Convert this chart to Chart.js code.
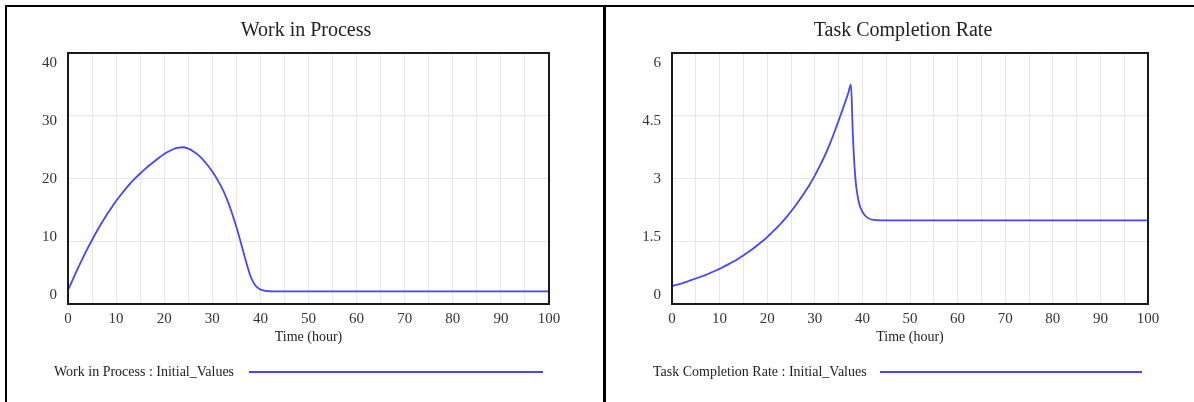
<!DOCTYPE html>
<html>
<head>
<meta charset="utf-8">
<script src="https://cdn.jsdelivr.net/npm/chart.js@4.4.0/dist/chart.umd.min.js"></script>
<style>
  html, body { margin: 0; padding: 0; background: #fff; }
  #page { position: relative; width: 1194px; height: 402px; overflow: hidden; font-family: "Liberation Serif", serif; color: #222; }
  .rule { position: absolute; background: #000; z-index: 2; }
  .box { position: absolute; top: 0; height: 402px; }
  .legend { position: absolute; top: 363px; font-size: 14px; line-height: 18px; white-space: nowrap; }
  .legend-line { position: absolute; top: 371px; height: 2px; background: #4545ff; }
</style>
</head>
<body>
<div id="page">
  <div class="box" style="left:0;width:603px"><canvas id="wip-chart" width="603" height="402"></canvas></div>
  <div class="box" style="left:603px;width:591px"><canvas id="rate-chart" width="591" height="402"></canvas></div>

  <div class="rule" style="left:5px;top:5px;width:1189px;height:2px"></div>
  <div class="rule" style="left:5px;top:5px;width:2px;height:397px"></div>
  <div class="rule" style="left:603px;top:5px;width:3px;height:397px"></div>

  <div class="legend" style="left:54px">Work in Process : Initial_Values</div>
  <div class="legend-line" style="left:249px;width:294px"></div>
  <div class="legend" style="left:653px">Task Completion Rate : Initial_Values</div>
  <div class="legend-line" style="left:880px;width:262px"></div>
</div>
<script>
var timeTicks = [0, 10, 20, 30, 40, 50, 60, 70, 80, 90, 100];

// Work in Process (hours, tasks)
var wipTime = [0, 1, 2, 3, 4, 5, 6, 7, 8, 9, 10, 11, 12, 13, 14, 15, 16, 17, 18, 19, 20,
    21, 22, 23, 24, 25, 26, 27, 28, 29, 30, 31, 32, 33, 34, 35, 36, 37, 38, 39, 40,
    41, 42, 43, 50, 60, 70, 80, 90, 100];
var wipValues = [2.2, 3.9, 5.6, 7.2, 8.75, 10.2, 11.6, 12.9, 14.15, 15.3, 16.4, 17.4, 18.35, 19.25,
    20.05, 20.8, 21.5, 22.15, 22.75, 23.35, 23.9, 24.35, 24.7, 24.92, 24.98, 24.75, 24.35, 23.8,
    23.05, 22.15, 21.1, 19.9, 18.5, 16.8, 14.7, 12.3, 9.6, 6.8, 4.3, 2.9, 2.3, 2.1, 2.03, 2.0,
    2.0, 2.0, 2.0, 2.0, 2.0, 2.0];
var wipTicks = [0, 10, 20, 30, 40];

// Task Completion Rate
var rateTime = [0, 1, 2, 3, 4, 5, 6, 7, 8, 9, 10, 11, 12, 13, 14, 15, 16, 17, 18, 19, 20,
    21, 22, 23, 24, 25, 26, 27, 28, 29, 30, 31, 32, 33, 34, 35, 36, 37, 37.6, 38, 38.5,
    38.9, 39.5, 40.6, 42.4, 45, 50, 60, 70, 80, 90, 100];
var rateValues = [0.43, 0.46, 0.49, 0.53, 0.57, 0.61, 0.65, 0.69, 0.74, 0.79, 0.84, 0.90, 0.96, 1.02,
    1.09, 1.16, 1.24, 1.32, 1.41, 1.50, 1.60, 1.71, 1.82, 1.94, 2.07, 2.21, 2.36, 2.52, 2.69, 2.87,
    3.07, 3.29, 3.52, 3.78, 4.07, 4.38, 4.70, 5.03, 5.25, 4.04, 3.04, 2.65, 2.33, 2.11, 2.01, 2.0,
    2.0, 2.0, 2.0, 2.0, 2.0, 2.0];
var rateTicks = [0, 1.5, 3, 4.5, 6];

var FONT = '"Liberation Serif", serif';
var GRID = '#e6e6e6';

var framePlugin = {
    id: 'frame',
    afterDatasetsDraw: function (chart) {
        var a = chart.chartArea,
            ctx = chart.ctx;
        ctx.save();
        ctx.strokeStyle = '#1a1a1a';
        ctx.lineWidth = 2;
        ctx.strokeRect(a.left, a.top, a.right - a.left, a.bottom - a.top);
        ctx.restore();
    }
};

function toPoints(xs, ys) {
    return xs.map(function (x, i) { return { x: x, y: ys[i] }; });
}

// Vensim draws its value labels a little inside the plot frame,
// so the labels live on their own axis with a slightly wider range
function labelAxis(ticks, axisWidth) {
    var lo = ticks[0],
        hi = ticks[ticks.length - 1],
        unit = (251 - 10.3 - 9) / (hi - lo);

    return {
        position: 'left',
        min: lo - 9 / unit,
        max: hi + 10.3 / unit,
        grid: { display: false, drawTicks: false },
        border: { display: false },
        ticks: {
            padding: 11,
            color: '#333',
            font: { family: FONT, size: 15 },
            callback: function (v) { return String(v); }
        },
        afterBuildTicks: function (s) {
            s.ticks = ticks.map(function (v) { return { value: v }; });
        },
        afterFit: function (s) {
            s.width = axisWidth;
            s.paddingTop = 0;
            s.paddingBottom = 0;
        }
    };
}

// empty axis on the right: keeps the gap there without shrinking the title box
function spacerAxis(width) {
    return {
        position: 'right',
        min: 0,
        max: 1,
        grid: { display: false, drawTicks: false },
        border: { display: false },
        ticks: { display: false },
        afterFit: function (s) {
            s.width = width;
            s.paddingTop = 0;
            s.paddingBottom = 0;
        }
    };
}

function createChart(id, title, xs, ys, ticks, axisWidth, gapRight) {
    return new Chart(id, {
        type: 'line',
        data: {
            datasets: [{
                label: title + ' : Initial_Values',
                data: toPoints(xs, ys),
                borderColor: '#4545ff',
                borderWidth: 1.8,
                pointRadius: 0,
                fill: false,
                cubicInterpolationMode: 'monotone',
                yAxisID: 'y'
            }]
        },
        options: {
            responsive: false,
            animation: false,
            layout: { padding: { top: 0, left: 9, right: 0, bottom: 52 } },
            plugins: {
                legend: { display: false },
                tooltip: { enabled: false },
                title: {
                    display: true,
                    text: title,
                    color: '#222',
                    font: { family: FONT, size: 20, weight: 'normal' },
                    padding: { top: 19, bottom: 10 }
                }
            },
            scales: {
                x: {
                    type: 'linear',
                    min: 0,
                    max: 100,
                    grid: { color: GRID, drawTicks: false },
                    border: { display: false },
                    ticks: {
                        stepSize: 5,
                        autoSkip: false,
                        maxRotation: 0,
                        padding: 6,
                        color: '#333',
                        font: { family: FONT, size: 15 },
                        callback: function (v) { return timeTicks.indexOf(v) >= 0 ? String(v) : ''; }
                    },
                    title: {
                        display: true,
                        text: 'Time (hour)',
                        color: '#222',
                        font: { family: FONT, size: 14 },
                        padding: { top: 0, bottom: 4 }
                    },
                    afterFit: function (s) {
                        s.height = 46;
                        s.paddingLeft = 0;
                        s.paddingRight = 0;
                    }
                },
                y: {
                    min: ticks[0],
                    max: ticks[ticks.length - 1],
                    grid: { color: GRID, drawTicks: false },
                    border: { display: false },
                    ticks: { display: false },
                    afterBuildTicks: function (s) {
                        s.ticks = ticks.map(function (v) { return { value: v }; });
                    },
                    afterFit: function (s) {
                        s.width = 0;
                        s.paddingTop = 0;
                        s.paddingBottom = 0;
                    }
                },
                yLabels: labelAxis(ticks, axisWidth),
                yGap: spacerAxis(gapRight)
            }
        },
        plugins: [framePlugin]
    });
}

createChart('wip-chart', 'Work in Process', wipTime, wipValues, wipTicks, 59, 54);
createChart('rate-chart', 'Task Completion Rate', rateTime, rateValues, rateTicks, 60, 46);
</script>
</body>
</html>
